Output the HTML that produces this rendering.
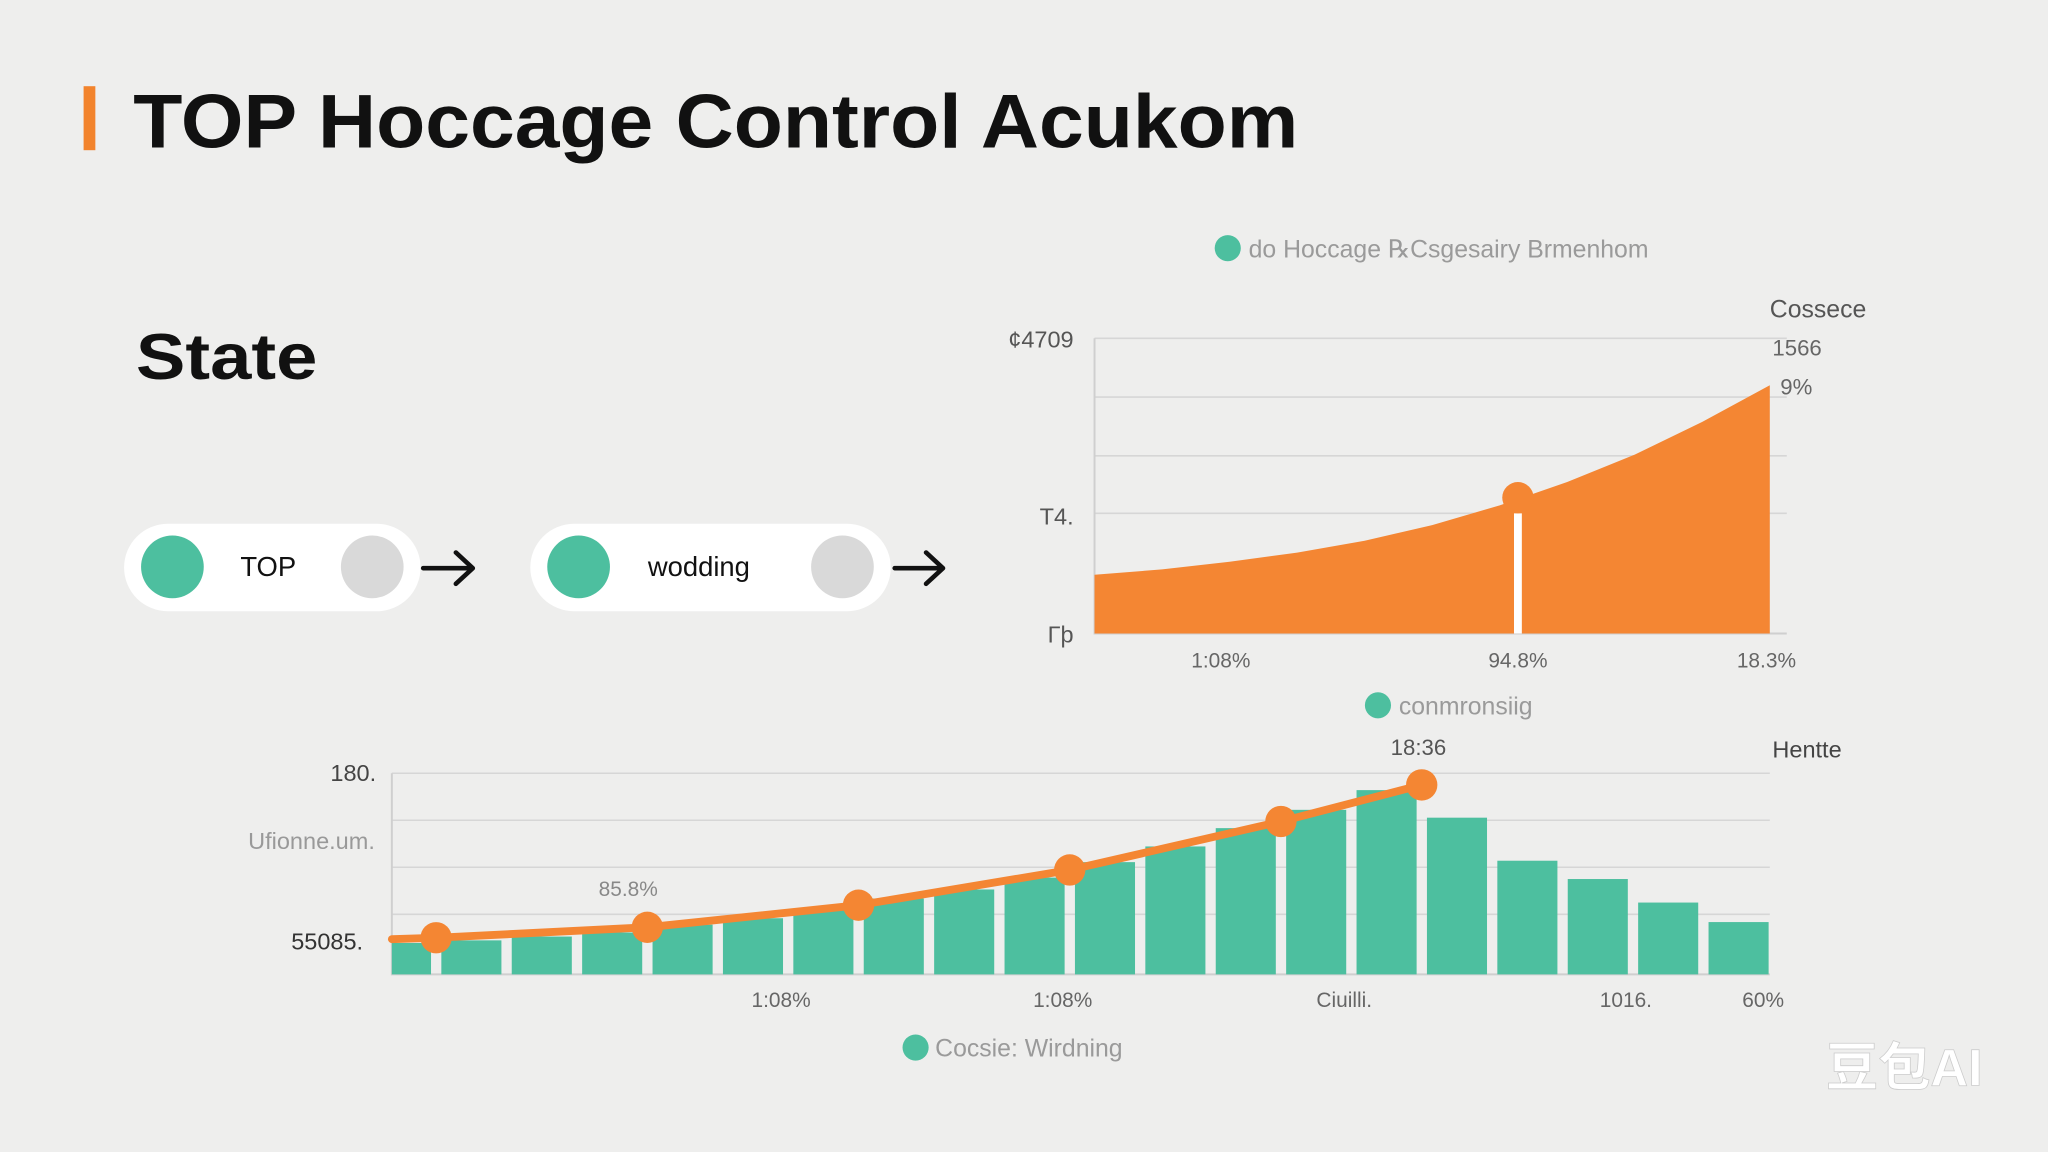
<!DOCTYPE html>
<html><head><meta charset="utf-8"><style>
html,body{margin:0;padding:0;background:#eeeeed;}
svg{display:block;font-family:"Liberation Sans","Noto Sans CJK SC",sans-serif;}
</style></head><body>
<svg id="root" width="2048" height="1152" viewBox="0 0 1568 882">
<rect x="0" y="0" width="1568" height="882" fill="#eeeeed"/>
<rect x="64" y="66" width="9" height="49" fill="#f2832c"/>
<text x="102" y="113" font-size="58" font-weight="bold" fill="#111" textLength="892" lengthAdjust="spacingAndGlyphs">TOP Hoccage Control Acukom</text>
<text x="104" y="290" font-size="50" font-weight="bold" fill="#111" textLength="139" lengthAdjust="spacingAndGlyphs">State</text>

<g>
<rect x="95" y="401" width="227" height="67" rx="33.5" fill="#fff"/>
<circle cx="132" cy="434" r="24" fill="#4dbf9f"/>
<circle cx="285" cy="434" r="24" fill="#d9d9d9"/>
<text x="184" y="441" font-size="21" fill="#111">TOP</text>
</g>
<g stroke="#111" stroke-width="3.5" fill="none" stroke-linecap="round" stroke-linejoin="round">
<line x1="324" y1="435" x2="361" y2="435"/><polyline points="349,423 362,435 349,447"/>
</g>
<g>
<rect x="406" y="401" width="276" height="67" rx="33.5" fill="#fff"/>
<circle cx="443" cy="434" r="24" fill="#4dbf9f"/>
<circle cx="645" cy="434" r="24" fill="#d9d9d9"/>
<text x="496" y="441" font-size="21" fill="#111">wodding</text>
</g>
<g stroke="#111" stroke-width="3.5" fill="none" stroke-linecap="round" stroke-linejoin="round">
<line x1="685" y1="435" x2="721" y2="435"/><polyline points="709,423 722,435 709,447"/>
</g>

<g id="areaChart"></g>
<g id="barChart"></g>

<text x="1398" y="831" font-size="40" font-weight="bold" fill="#fff" stroke="#ccc" stroke-width="0.6">豆包AI</text>
</svg>
<script>
// ---- area chart data ----
const areaX = [0,0.1,0.2,0.3,0.4,0.5,0.6,0.7,0.8,0.9,1];
const areaValues = [19.9,21.7,24.3,27.4,31.4,36.7,43.4,51.3,60.6,71.7,84.1];
const areaMarkerX = [0.627];
const areaMarkerValue = [46];
const areaYTicks = ["¢4709","T4.","Γþ"];
const areaYTickValues = [100,40,0];
const areaXTicks = ["1:08%","94.8%","18.3%"];
const areaXTickPos = [0.187,0.627,0.995];

// ---- bar/line chart data ----
const barValues = [15.6,16.9,18.8,20.8,24.7,27.9,31.8,37.7,42.2,48.1,55.8,63.6,72.7,81.8,91.6,77.9,56.5,47.4,35.7,26.0];
const linePos = [0.3,1,4,7,10,13,15];
const lineValues = [17.5,18.2,23.4,34.4,51.9,76.0,94.2];
const barXTicks = ["1:08%","1:08%","Ciuilli.","1016.","60%"];
const barXTickPos = [5.9,9.9,13.9,17.9,19.85];

const NS="http://www.w3.org/2000/svg";
function mk(parent,tag,attrs,text){const e=document.createElementNS(NS,tag);for(const k in attrs)e.setAttribute(k,attrs[k]);if(text!==undefined)e.textContent=text;parent.appendChild(e);return e;}

// area chart
(function(){
const g=document.getElementById('areaChart');
const x0=838,x1=1355,yb=485,yt=259;
const X=f=>x0+(x1-x0)*f, Y=v=>yb-(yb-yt)*v/100;
[259,304,349,393].forEach(y=>{const l=mk(g,'line',{x1:x0,x2:1368,y1:y,y2:y,stroke:'#d6d6d6','stroke-width':1.2});

});
const ax=mk(g,'polyline',{points:`${x0},${yt} ${x0},${yb} ${1368},${yb}`,fill:'none',stroke:'#cfcfcf','stroke-width':1.5});


let d=`M${X(areaX[0])},${yb}`;areaX.forEach((f,i)=>{d+=` L${X(f)},${Y(areaValues[i])}`;});d+=` L${X(areaX[areaX.length-1])},${yb} Z`;
const a=mk(g,'path',{d:d,fill:'#f48633'});


areaMarkerX.forEach((f,i)=>{
const ln=mk(g,'rect',{x:X(f)-3,y:Y(areaMarkerValue[i])+12,width:6,height:yb-Y(areaMarkerValue[i])-12,fill:'#fff'});


const c=mk(g,'circle',{cx:X(f),cy:Y(areaMarkerValue[i]),r:12,fill:'#f48633'});

});
areaYTicks.forEach((t,i)=>{const e=mk(g,'text',{x:822,y:Y(areaYTickValues[i])+7,'font-size':18,fill:'#555','text-anchor':'end'},t);

});
areaXTicks.forEach((t,i)=>{const e=mk(g,'text',{x:X(areaXTickPos[i]),y:511,'font-size':16,fill:'#666','text-anchor':'middle'},t);

});
const ld=mk(g,'circle',{cx:940,cy:190,r:10,fill:'#4dbf9f'});


const lt=mk(g,'text',{x:956,y:197,'font-size':19,fill:'#9a9a9a'},'do Hoccage ℞Csgesairy Brmenhom');


const c1=mk(g,'text',{x:1355,y:243,'font-size':19,fill:'#555'},'Cossece');


const c2=mk(g,'text',{x:1357,y:272,'font-size':17,fill:'#666'},'1566');


const c3=mk(g,'text',{x:1363,y:302,'font-size':17,fill:'#666'},'9%');


})();

// bar + line chart
(function(){
const g=document.getElementById('barChart');
const x0=300,x1=1355,yb=746,yt=592,pitch=53.9,start=284,bw=46;
const Y=v=>yb-(yb-yt)*v/100, XB=i=>start+pitch*i, XL=p=>start+pitch*p-4;
[592,628,664,700].forEach(y=>{const l=mk(g,'line',{x1:x0,x2:x1,y1:y,y2:y,stroke:'#d6d6d6','stroke-width':1.2});

});
const ax=mk(g,'polyline',{points:`${x0},${yt} ${x0},${yb} ${x1},${yb}`,fill:'none',stroke:'#cfcfcf','stroke-width':1.5});


barValues.forEach((v,i)=>{const xs=Math.max(XB(i),x0);const w=XB(i)+bw-xs;
const r=mk(g,'rect',{x:xs,y:Y(v),width:w,height:yb-Y(v),fill:'#4dbf9f'});

});
const pts=linePos.map((p,i)=>`${Math.max(XL(p),x0)},${Y(lineValues[i])}`).join(' ');
const pl=mk(g,'polyline',{points:pts,fill:'none',stroke:'#f48633','stroke-width':6,'stroke-linejoin':'round','stroke-linecap':'round'});


linePos.forEach((p,i)=>{if(i===0)return;const c=mk(g,'circle',{cx:XL(p),cy:Y(lineValues[i]),r:12,fill:'#f48633'});

});
barXTicks.forEach((t,i)=>{const e=mk(g,'text',{x:XL(barXTickPos[i]),y:771,'font-size':16,fill:'#666','text-anchor':'middle'},t);

});
const labels=[[288,598,'180.','#444',18,'end','bar-y-top-tick'],[287,650,'Ufionne.um.','#999',18,'end','y-axis-title'],[278,727,'55085.','#333',18,'end','bar-y-bottom-tick'],[481,686,'85.8%','#888',16,'middle','line-annotation'],[1086,578,'18:36','#555',17,'middle','peak-label'],[1357,580,'Hentte','#444',18,'start','bar-corner-label'],[1071,547,'conmronsiig','#9a9a9a',19,'start','mid-legend-label'],[716,809,'Cocsie: Wirdning','#9a9a9a',19,'start','bottom-legend-label']];
labels.forEach(l=>{const e=mk(g,'text',{x:l[0],y:l[1],fill:l[3],'font-size':l[4],'text-anchor':l[5]},l[2]);

});
[[1055,540,'mid-legend-dot'],[701,802,'bottom-legend-dot']].forEach(d=>{const c=mk(g,'circle',{cx:d[0],cy:d[1],r:10,fill:'#4dbf9f'});

});
})();
</script>
</body></html>
